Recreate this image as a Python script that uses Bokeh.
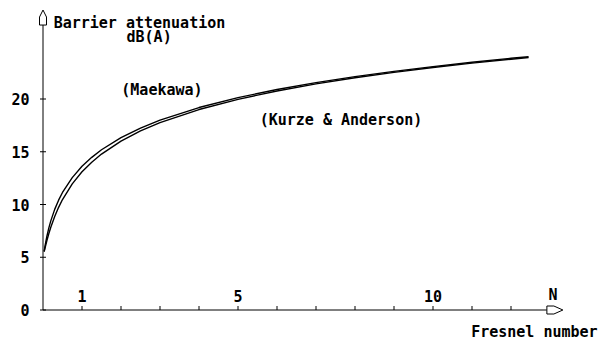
from bokeh.plotting import figure
from bokeh.models import Range1d
from bokeh.core.properties import value
from bokeh.embed import file_html
from bokeh.resources import INLINE

# Fresnel number N and barrier attenuation dB(A)
fresnel_n = [0.03, 0.05, 0.1, 0.15, 0.2, 0.3, 0.4, 0.5, 0.75, 1, 1.25, 1.5, 2, 2.5, 3,
             4, 5, 6, 7, 8, 9, 10, 11, 12, 12.45]
maekawa = [5.56, 6.02, 6.99, 7.78, 8.45, 9.54, 10.41, 11.14, 12.55, 13.62, 14.47, 15.19,
           16.33, 17.24, 17.99, 19.19, 20.13, 20.90, 21.55, 22.12, 22.62, 23.07, 23.48,
           23.86, 24.01]
kurze_anderson = [5.53, 5.85, 6.59, 7.25, 7.85, 8.87, 9.73, 10.47, 11.96, 13.10, 14.01,
                  14.78, 16.01, 16.97, 17.76, 19.00, 19.97, 20.76, 21.43, 22.01, 22.52,
                  22.98, 23.40, 23.77, 23.93]

x_ticks = list(range(1, 13))
x_labelled = [1, 5, 10]
x_tick_labels = ["1", "5", "10"]
y_ticks = [0, 5, 10, 15, 20]
y_tick_labels = ["0", "5", "10", "15", "20"]

FONT = value("DejaVu Sans Mono")
FS = value("15px")

# pixel scale of the original drawing
PX_X = 1 / 39.0    # data units per pixel, x
PX_Y = 1 / 10.55   # data units per pixel, y
x0 = -42.5 * PX_X
y0 = -30.5 * PX_Y

p = figure(width=601, height=340, output_backend="svg", toolbar_location=None,
           x_range=Range1d(x0, x0 + 601 * PX_X), y_range=Range1d(y0, y0 + 340 * PX_Y),
           x_axis_type=None, y_axis_type=None,
           min_border_left=0, min_border_right=0, min_border_top=0, min_border_bottom=0)
p.outline_line_color = None
p.grid.visible = False
p.background_fill_color = "white"
p.border_fill_color = "white"

x_axis_end = 12.92
y_axis_end = 27.01

# axes lines
p.segment(x0=[0, 0], y0=[0, 0], x1=[x_axis_end, 0], y1=[0, y_axis_end],
          line_color="black", line_width=1)
# x ticks (upward)
p.segment(x0=x_ticks, y0=[0] * len(x_ticks), x1=x_ticks, y1=[4 * PX_Y] * len(x_ticks),
          line_color="black", line_width=1)
# y ticks (crossing)
p.segment(x0=[-3 * PX_X] * len(y_ticks), y0=y_ticks, x1=[3 * PX_X] * len(y_ticks),
          y1=y_ticks, line_color="black", line_width=1)

# tick labels
p.text(x=x_labelled, y=[14 * PX_Y] * len(x_labelled), text=x_tick_labels,
       text_font=FONT, text_font_style="bold", text_font_size=FS, text_color="black",
       text_align="center", text_baseline="alphabetic")
p.text(x=[-13.5 * PX_X] * len(y_ticks), y=y_ticks, text=y_tick_labels,
       text_font=FONT, text_font_style="bold", text_font_size=FS, text_color="black",
       text_align="right", text_baseline="middle")

# curves
p.line(fresnel_n, maekawa, line_color="black", line_width=1.4)
p.line(fresnel_n, kurze_anderson, line_color="black", line_width=1.4)

# axis arrow heads (hollow)
p.patch([0, 3.5 * PX_X, 3.5 * PX_X, -3.5 * PX_X, -3.5 * PX_X],
        [y_axis_end + 15 * PX_Y, y_axis_end + 8 * PX_Y, y_axis_end, y_axis_end,
         y_axis_end + 8 * PX_Y],
        fill_color="white", line_color="black", line_width=1)
p.patch([x_axis_end, x_axis_end + 7 * PX_X, x_axis_end + 16 * PX_X, x_axis_end + 7 * PX_X,
         x_axis_end],
        [4 * PX_Y, 4 * PX_Y, 0, -4 * PX_Y, -4 * PX_Y],
        fill_color="white", line_color="black", line_width=1)

def lab(x, y, text, align="left"):
    p.text(x=[x], y=[y], text=[text], text_font=FONT, text_font_style="bold",
           text_font_size=FS, text_color="black", text_align=align,
           text_baseline="alphabetic")

lab(0.274, 27.2, "Barrier attenuation")
lab(2.72, 25.85, "dB(A)", "center")
lab(3.05, 20.9, "(Maekawa)", "center")
lab(7.64, 18.05, "(Kurze & Anderson)", "center")
lab(13.08, 1.4, "N", "center")
lab(14.22, -2.1, "Fresnel number", "right")

open("out.html", "w").write(file_html(p, INLINE))
